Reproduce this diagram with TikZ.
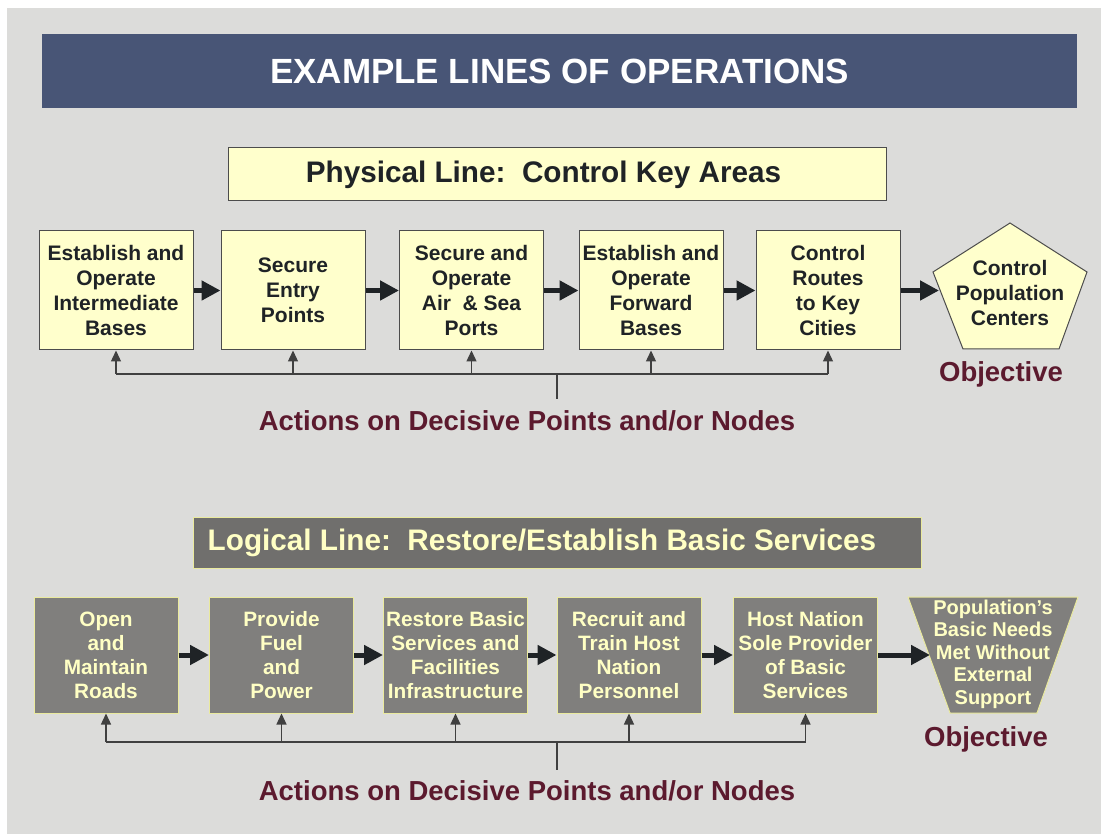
\documentclass[tikz,border=0pt]{standalone}
\usepackage{fontspec}
\setmainfont{Liberation Sans}
\usetikzlibrary{arrows.meta}

\definecolor{bgray}{HTML}{DCDCDA}
\definecolor{navy}{HTML}{485576}
\definecolor{pale}{HTML}{FFFFCC}
\definecolor{ink}{HTML}{1F2326}
\definecolor{stone}{HTML}{807F7D}
\definecolor{slate}{HTML}{706F6D}
\definecolor{cream}{HTML}{FFFFC4}
\definecolor{rim}{HTML}{EAEA9E}
\definecolor{maroon}{HTML}{5C1A2E}

\tikzset{
  titlebar/.style={fill=navy, text=white, minimum width=1035, minimum height=74, inner sep=0pt, font=\fontsize{35}{40}\selectfont\bfseries},
  phead/.style={draw=black!70, line width=1pt, fill=pale, text=ink, minimum width=658, minimum height=53, inner sep=0pt, font=\fontsize{29.7}{34}\selectfont\bfseries},
  lhead/.style={draw=rim, line width=1pt, fill=slate, text=cream, minimum width=728, minimum height=51, inner sep=0pt, font=\fontsize{29.7}{34}\selectfont\bfseries},
  pbox/.style={draw=black!70, line width=1pt, fill=pale, text=ink, minimum width=144, minimum height=119, inner sep=0pt, align=center, font=\fontsize{21}{25}\selectfont\bfseries},
  lbox/.style={draw=rim, line width=1pt, fill=stone, text=cream, minimum width=144, minimum height=116, inner sep=0pt, align=center, font=\fontsize{20.8}{24}\selectfont\bfseries},
  ptext/.style={text=ink, inner sep=0pt, align=center, font=\fontsize{21}{25}\selectfont\bfseries},
  ltext/.style={text=cream, inner sep=0pt, align=center, font=\fontsize{20}{22.5}\selectfont\bfseries},
  goal/.style={text=maroon, inner sep=0pt, font=\fontsize{27.5}{32}\selectfont\bfseries},
  arr/.style={draw=ink, line width=5pt, -{Triangle[length=19pt,width=19pt]}},
  fb/.style={draw=black!75, line width=1.3pt},
  fbarr/.style={fb, -{Triangle[length=11pt,width=10pt]}}
}

\begin{document}
\begin{tikzpicture}[x=1pt, y=-1pt]
\useasboundingbox (0,0) rectangle (1101,834);
\fill[bgray] (7,8) rectangle (1101,834);

\node[titlebar] (title) at (559.5,71) {EXAMPLE LINES OF OPERATIONS};

\node[phead] (phys) at (557,174.5) {\hspace*{-27pt}Physical Line:\ \ Control Key Areas};

\node[pbox, minimum width=154] (p1) at (116,290.5) {Establish and\\Operate\\Intermediate\\Bases};
\node[pbox] (p2) at (293,290.5) {Secure\\Entry\\Points};
\node[pbox] (p3) at (471.5,290.5) {Secure and\\Operate\\Air \ \& Sea\\Ports};
\node[pbox] (p4) at (651,290.5) {Establish and\\Operate\\Forward\\Bases};
\node[pbox] (p5) at (828,290.5) {Control\\Routes\\to Key\\Cities};

\draw[draw=black!70, line width=1pt, fill=pale] (1010,223) -- (1087,272) -- (1059,349) -- (963,349) -- (933,272) -- cycle;
\node[ptext] (o1) at (1010,293) {Control\\Population\\Centers};
\coordinate (o1in) at (939,290.5);

\draw[arr] (p1) -- (p2);
\draw[arr] (p2) -- (p3);
\draw[arr] (p3) -- (p4);
\draw[arr] (p4) -- (p5);
\draw[arr] (p5) -- (o1in);

\coordinate (pbus) at (557,374);
\coordinate (pstem) at (557,399);
\draw[fb] (p1.south |- pbus) -- (p5.south |- pbus);
\draw[fb] (pbus) -- (pstem);
\draw[fbarr] (p1.south |- pbus) -- (p1.south);
\draw[fbarr] (p2.south |- pbus) -- (p2.south);
\draw[fbarr] (p3.south |- pbus) -- (p3.south);
\draw[fbarr] (p4.south |- pbus) -- (p4.south);
\draw[fbarr] (p5.south |- pbus) -- (p5.south);

\node[goal] (g1) at (1001,374) {Objective};
\node[goal] (a1) at (527,421) {Actions on Decisive Points and/or Nodes};

\node[lhead] (logi) at (557,542.5) {\hspace*{-30pt}Logical Line:\ \ Restore/Establish Basic Services};

\node[lbox] (l1) at (106,655) {Open\\and\\Maintain\\Roads};
\node[lbox] (l2) at (281.5,655) {Provide\\Fuel\\and\\Power};
\node[lbox] (l3) at (455.5,655) {Restore Basic\\Services and\\Facilities\\Infrastructure};
\node[lbox] (l4) at (629,655) {Recruit and\\Train Host\\Nation\\Personnel};
\node[lbox] (l5) at (805.5,655) {Host Nation\\Sole Provider\\of Basic\\Services};

\draw[draw=rim, line width=1pt, fill=stone] (908,597) -- (1078,597) -- (1037,713) -- (950,713) -- cycle;
\node[ltext] (o2) at (993,654) {Population’s\\Basic Needs\\Met Without\\External\\Support};
\coordinate (o2in) at (930,655);

\draw[arr] (l1) -- (l2);
\draw[arr] (l2) -- (l3);
\draw[arr] (l3) -- (l4);
\draw[arr] (l4) -- (l5);
\draw[arr] (l5) -- (o2in);

\coordinate (lbus) at (557,742);
\coordinate (lstem) at (557,770);
\draw[fb] (l1.south |- lbus) -- (l5.south |- lbus);
\draw[fb] (lbus) -- (lstem);
\draw[fbarr] (l1.south |- lbus) -- (l1.south);
\draw[fbarr] (l2.south |- lbus) -- (l2.south);
\draw[fbarr] (l3.south |- lbus) -- (l3.south);
\draw[fbarr] (l4.south |- lbus) -- (l4.south);
\draw[fbarr] (l5.south |- lbus) -- (l5.south);

\node[goal] (g2) at (986,739) {Objective};
\node[goal] (a2) at (527,791) {Actions on Decisive Points and/or Nodes};
\end{tikzpicture}
\end{document}
